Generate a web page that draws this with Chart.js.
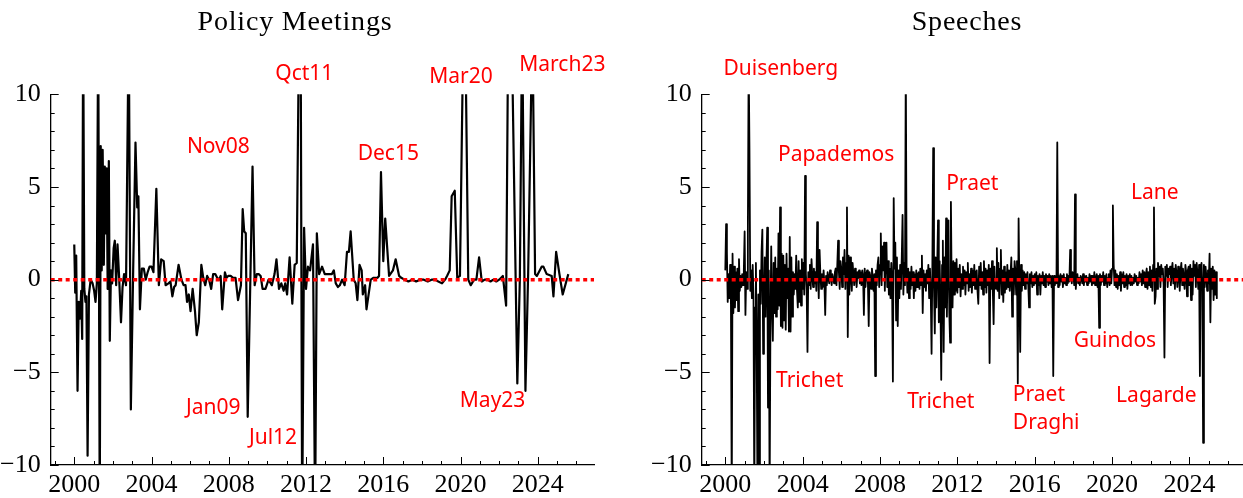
<!DOCTYPE html>
<html>
<head>
<meta charset="utf-8">
<script src="https://cdn.jsdelivr.net/npm/chart.js@4.4.1/dist/chart.umd.min.js"></script>
<style>
  html, body { margin: 0; padding: 0; background: #fff; width: 1243px; height: 498px; overflow: hidden; }
  #wrap { position: relative; width: 1243px; height: 498px; overflow: hidden; }
  canvas { position: absolute; top: 0; }
  #meetings { left: 0; }
  #speeches { left: 620px; }
</style>
</head>
<body>
<div id="wrap">
  <canvas id="meetings" width="620" height="498"></canvas>
  <canvas id="speeches" width="630" height="498"></canvas>
</div>
<script>
// ---- Axis definitions ----
const yearTicks = [1999, 2000, 2001, 2002, 2003, 2004, 2005, 2006, 2007, 2008, 2009, 2010, 2011, 2012,
                   2013, 2014, 2015, 2016, 2017, 2018, 2019, 2020, 2021, 2022, 2023, 2024, 2025, 2026];
const yearLabels = { 2000: '2000', 2004: '2004', 2008: '2008', 2012: '2012', 2016: '2016', 2020: '2020', 2024: '2024' };
const valueLabels = { '-10': '\u221210', '-5': '\u22125', '0': '0', '5': '5', '10': '10' };

// ---- Policy meetings: surprise index per meeting (decimal year, value) ----
const meetingDates = [
  2000.00, 2000.05, 2000.10, 2000.17, 2000.23, 2000.30, 2000.36, 2000.41, 2000.46, 2000.52,
  2000.58, 2000.63, 2000.69, 2000.76, 2000.85, 2000.95, 2001.03, 2001.10, 2001.17, 2001.24,
  2001.32, 2001.37, 2001.42, 2001.47, 2001.53, 2001.58, 2001.63, 2001.68, 2001.73, 2001.79,
  2001.84, 2001.90, 2001.96, 2002.04, 2002.10, 2002.17, 2002.24, 2002.32, 2002.42, 2002.50,
  2002.58, 2002.68, 2002.82, 2002.93, 2003.05, 2003.17, 2003.26, 2003.32, 2003.40, 2003.50,
  2003.60, 2003.70, 2003.80, 2003.90, 2004.00, 2004.10, 2004.25, 2004.38, 2004.50, 2004.63,
  2004.73, 2004.88, 2004.98, 2005.08, 2005.17, 2005.25, 2005.40, 2005.55, 2005.66, 2005.76,
  2005.84, 2005.93, 2006.02, 2006.13, 2006.25, 2006.34, 2006.45, 2006.58, 2006.68, 2006.78,
  2006.88, 2006.98, 2007.09, 2007.19, 2007.30, 2007.40, 2007.50, 2007.58, 2007.66, 2007.80,
  2007.88, 2007.97, 2008.10, 2008.22, 2008.35, 2008.48, 2008.63, 2008.72, 2008.80, 2008.88,
  2008.98, 2009.23, 2009.34, 2009.45, 2009.55, 2009.65, 2009.75, 2009.90, 2010.06, 2010.23,
  2010.37, 2010.47, 2010.60, 2010.72, 2010.84, 2010.92, 2011.02, 2011.15, 2011.29, 2011.41,
  2011.52, 2011.64, 2011.72, 2011.80, 2011.90, 2012.00, 2012.10, 2012.21, 2012.36, 2012.47,
  2012.56, 2012.68, 2012.83, 2012.97, 2013.13, 2013.34, 2013.44, 2013.54, 2013.65, 2013.75,
  2013.87, 2014.00, 2014.12, 2014.22, 2014.31, 2014.47, 2014.57, 2014.66, 2014.77, 2014.88,
  2014.94, 2015.06, 2015.13, 2015.35, 2015.50, 2015.70, 2015.78, 2015.88, 2016.00, 2016.10,
  2016.30, 2016.50, 2016.64, 2016.82, 2016.93, 2017.10, 2017.30, 2017.50, 2017.70, 2017.90,
  2018.10, 2018.30, 2018.50, 2018.67, 2018.85, 2019.04, 2019.20, 2019.30, 2019.44, 2019.54,
  2019.70, 2019.83, 2019.97, 2020.15, 2020.24, 2020.40, 2020.53, 2020.70, 2020.82, 2020.96,
  2021.10, 2021.25, 2021.40, 2021.55, 2021.70, 2021.85, 2022.00, 2022.19, 2022.36, 2022.47,
  2022.64, 2022.94, 2023.07, 2023.19, 2023.36, 2023.50, 2023.72, 2023.86, 2023.95, 2024.20,
  2024.29, 2024.46, 2024.72, 2024.81, 2024.95, 2025.12, 2025.29, 2025.58
];
const meetingValues = [
  1.9, -0.7, 1.3, -6.0, -1.2, -2.1, -0.6, -3.2, 14, -0.5,
  -1.2, -0.9, -9.5, -0.8, 0.0, -0.2, -0.6, -1.2, -0.2, 14,
  -13, 7.2, 0.5, 7.0, 0.8, 6.1, 2.5, 6.0, -0.5, 6.4,
  -3.3, 0.5, -0.2, 1.7, 2.1, -0.3, 1.9, 0.2, -2.3, -0.4,
  0.3, -0.3, 14, -7.0, 0.5, 7.4, 3.9, 4.5, -1.6, 0.6,
  0.6, 0.0, 0.4, 0.7, 0.7, 0.4, 4.9, -0.3, 1.1, 1.0,
  -0.3, -0.2, -0.1, -0.9, -0.4, -0.3, 0.8, 0.0, -0.3, -0.3,
  -1.2, -0.8, -1.7, -0.5, -1.7, -3.0, -2.3, 0.8, 0.1, -0.3,
  0.2, 0.0, -0.5, 0.3, 0.3, 0.1, 0.0, 0.2, -1.6, 0.4,
  0.1, 0.2, 0.2, 0.1, 0.1, -1.1, -0.3, 3.8, 2.6, 2.5,
  -7.4, 6.1, -0.3, 0.3, 0.3, 0.2, -0.5, -0.5, 0.0, -0.3,
  0.3, 1.1, -0.5, -0.2, -0.6, -0.2, -0.8, 1.2, -1.3, 0.8,
  0.9, 14, 14, -13, 2.8, -0.5, 0.7, 0.5, 1.9, -13,
  2.5, 0.3, 0.7, 0.3, 0.3, 0.3, 0.5, -0.2, -0.4, -0.3,
  0.0, -0.3, 1.5, 1.5, 2.6, 0.0, -0.2, -1.1, 0.8, 0.5,
  -0.8, -0.3, -1.6, 0.0, 0.1, 0.1, 0.2, 5.8, 1.0, 3.3,
  0.2, 0.5, 1.1, 0.2, 0.1, 0.0, -0.1, 0.0, -0.1, 0.0,
  0.0, -0.1, 0.0, 0.0, -0.1, -0.2, 0.0, 0.2, 0.5, 4.5,
  4.8, 0.1, 0.2, 14, 14, 0.0, -0.3, 0.0, 0.0, 1.2,
  -0.1, 0.0, 0.0, -0.1, 0.0, -0.1, 0.0, 0.2, -1.4, 14,
  14, -5.6, 0.0, 14, -6.0, 0.3, 14, 0.3, 0.2, 0.7,
  0.7, 0.3, 0.2, -0.9, 1.5, 0.3, -0.8, 0.3
];

// ---- Speeches: surprise index, 24 observations per year from January 2000 ----
const speechStartYear = 2000;
const speechStepsPerYear = 24;
const speechValues = [
  /* 2000 */ 0.5, 3.0, 1.5, -1.2, 0.3, -1.0, 0.8, -1.3, -12, 1.4, -1.8, 0.7, -1.5, 0.4, -1.1, 0.6, -1.7, 1.1, -0.6, 0.2, -0.4, 0.3, -0.3, 0.5,
  /* 2001 */ 2.6, -1.9, 0.4, -0.5, 2.5, 12, 7.0, -0.6, 0.5, -1.0, 0.8, -0.9, -12, -1.5, 0.9, -4.0, -12, -0.8, -12, 0.5, -1.3, 1.5, 2.7, -4.0,
  /* 2002 */ -1.3, 1.2, -2.0, 0.8, 2.8, -6.9, 0.5, -12, -2.5, 1.8, -1.5, -3.3, 0.9, -1.8, 1.2, -2.0, 0.6, -1.6, 2.5, -1.4, 3.9, -2.5, 1.4, -2.6,
  /* 2003 */ 1.3, -2.2, 0.8, -2.7, 1.4, -1.0, 0.6, -2.8, 2.3, -2.8, 1.2, -2.0, 0.4, -0.8, 0.3, -0.5, 1.3, -0.6, -1.5, 1.0, -1.2, 0.5, -1.4, 1.1,
  /* 2004 */ -0.5, 0.9, -0.8, 5.6, 0.3, -0.6, -3.9, 0.4, -0.3, 0.8, -0.5, 1.1, 0.2, -0.4, 0.6, -0.2, 0.4, -0.6, 3.1, 0.5, -1.0, 1.6, 0.3, -0.5,
  /* 2005 */ 0.3, -0.4, 0.5, -0.2, -1.9, 0.2, -0.3, 0.4, 0.1, -0.2, 0.5, 0.2, -0.3, 0.3, 0.1, -0.2, 0.4, 0.6, -0.3, 0.8, 2.1, 0.4, -0.5, 1.0,
  /* 2006 */ 0.6, -0.4, 1.2, 0.3, 1.6, -0.5, 0.9, 3.9, -3.1, 1.3, -0.8, 1.2, 0.2, -0.6, 0.9, 0.3, -0.3, 0.6, 0.2, -0.4, 0.4, 0.1, 0.5, -0.2,
  /* 2007 */ 0.4, -0.3, 0.5, 0.2, -1.9, 0.6, -0.4, 0.3, 0.5, -0.2, -2.5, 0.4, 0.2, -0.5, 0.6, 0.1, -0.6, 0.3, -5.2, 0.5, -0.3, 0.8, 1.2, -0.4,
  /* 2008 */ 0.8, 2.5, -0.3, 1.8, 0.5, 2.0, -0.6, 1.5, 2.0, -0.4, 1.0, -0.8, 0.6, -1.0, 0.9, -0.3, -5.5, 4.4, 0.6, 2.0, -2.2, 1.2, -2.5, 0.5,
  /* 2009 */ -1.0, 0.8, -0.5, 1.2, 3.5, -0.8, 0.9, -0.3, 12, 0.5, -0.7, 0.6, -1.0, 0.4, -0.5, 0.7, -0.3, 0.4, -1.0, 0.3, -0.6, 0.5, -0.4, 0.3,
  /* 2010 */ 0.4, -0.5, 0.6, -0.3, 1.3, -1.8, 0.5, -0.4, 0.3, -0.6, 0.5, -0.2, 0.8, -1.0, 0.6, -0.8, -4.0, 0.9, 7.1, -0.5, -2.9, 1.2, -1.5, 0.8,
  /* 2011 */ 3.2, -2.3, 1.0, -1.2, -5.4, 0.8, 2.1, -3.9, 1.2, -1.5, 3.3, -2.0, 1.0, 3.2, -1.8, -3.4, 4.2, -0.5, -1.5, 1.0, -0.8, 0.9, -0.6, 1.1,
  /* 2012 */ -0.7, 0.6, -0.4, 0.8, -0.9, 0.3, -0.5, 0.7, -0.3, 0.5, -0.8, 0.4, -0.2, 0.9, -0.6, 0.3, -0.4, 0.6, -0.7, 0.5, -0.3, 0.8, -0.5, 0.4,
  /* 2013 */ 0.5, -0.6, -1.3, 0.7, -0.3, 0.9, -0.5, 0.4, -0.8, 1.0, -0.4, 0.6, -0.7, 0.5, -0.3, 0.8, -4.5, 0.6, -0.5, 1.0, -0.6, -2.4, 0.7, -0.4,
  /* 2014 */ -0.5, 1.7, -0.6, 0.9, -1.0, 0.6, 1.6, -0.8, 0.5, -1.2, 0.7, -0.7, 0.4, -0.5, 0.8, -0.4, 0.5, -0.6, 0.3, 1.2, -2.0, 0.6, -0.8, 1.0,
  /* 2015 */ 0.5, -0.8, 1.0, -5.6, 3.3, -0.5, -3.9, 0.8, -0.6, 0.5, -0.3, 0.4, -0.5, 0.3, -0.2, 0.4, -0.3, -1.5, 0.3, -0.2, 0.4, -0.4, 0.2, -0.3,
  /* 2016 */ 0.3, -0.2, 0.4, -0.8, 0.2, -0.3, 0.3, -0.8, 0.2, -0.2, 0.4, -0.3, 0.2, -0.4, 0.3, -0.1, 0.2, -0.3, 0.3, -0.2, 0.2, -0.4, 0.2, -5.2,
  /* 2017 */ 0.2, -0.3, 0.1, -0.2, 7.4, -0.4, 0.2, -0.3, 0.3, -0.1, 0.2, -0.4, 0.3, -0.2, 0.1, -0.3, 0.3, -0.2, 0.2, -0.1, 1.6, 0.3, -0.2, 0.4,
  /* 2018 */ 0.3, -0.3, 4.6, -0.5, 0.2, 0.3, -0.2, 0.1, -0.3, 0.2, 0.1, -0.2, 0.3, -0.3, 0.2, -0.1, 0.2, -0.3, 0.1, -0.2, 0.3, -0.1, 0.2, -0.3,
  /* 2019 */ 0.2, -0.2, 0.4, -0.3, 0.1, 0.3, -0.4, 0.2, -2.6, 0.3, -0.3, 0.2, -0.1, 0.4, -0.3, 0.2, -0.2, 0.3, -0.4, 0.1, 0.3, -0.3, 0.5, -0.2,
  /* 2020 */ 0.6, 4.0, 0.8, -0.3, 0.5, -0.4, 0.3, -0.5, 0.2, -0.3, 0.4, -0.6, 0.3, -0.2, 0.4, -0.4, 0.2, -0.3, 0.3, -0.5, 0.2, -0.2, 0.3, -0.3,
  /* 2021 */ 0.2, -0.3, 0.1, -0.2, 0.3, -0.1, 0.2, -0.3, 0.1, -0.2, 0.4, -0.1, 0.3, -0.3, 0.5, -0.2, 0.4, -0.4, 0.3, 0.6, -0.5, 0.4, -0.3, 0.7,
  /* 2022 */ -0.4, 0.5, -0.6, 0.8, 3.9, -1.3, -0.9, 0.6, -0.5, 0.9, 0.2, 0.7, -0.4, 0.8, 0.3, 0.6, -0.3, -4.2, 0.7, 0.2, 0.8, -0.4, 0.6, 0.3,
  /* 2023 */ 0.7, -0.3, 0.5, 0.9, -0.2, 0.6, -0.5, 0.8, 0.3, -0.4, 0.7, 0.2, -0.6, 0.5, 0.9, -0.3, 0.6, 0.1, -0.5, 0.8, 0.4, -0.9, 0.5, 0.7,
  /* 2024 */ -0.3, 0.8, -1.1, 0.6, -0.8, 1.0, 0.2, 0.8, -0.4, 0.9, 0.3, -0.5, 0.8, -5.2, 0.6, 0.9, -0.2, -8.8, 0.8, -0.4, 0.7, 0.2, -0.6, 0.5,
  /* 2025 */ -0.2, 1.4, -2.3, 0.6, -0.5, 0.7, -1.1, 0.5, -0.8, 0.4, -1.0
];

// ---- Red annotations: [text, year, value, align] ----
const meetingNotes = [
  ['Qct11', 2011.91, 11.07, 'center'],
  ['Nov08', 2007.46, 7.16, 'center'],
  ['Jan09', 2007.20, -6.90, 'center'],
  ['Jul12', 2010.29, -8.53, 'center'],
  ['Dec15', 2016.26, 6.77, 'center'],
  ['Mar20', 2020.02, 10.92, 'center'],
  ['March23', 2025.27, 11.56, 'center'],
  ['May23', 2021.66, -6.54, 'center']
];
const speechNotes = [
  ['Duisenberg', 2002.87, 11.34, 'center'],
  ['Papademos', 2005.73, 6.75, 'center'],
  ['Praet', 2012.77, 5.14, 'center'],
  ['Lane', 2022.21, 4.65, 'center'],
  ['Trichet', 2004.36, -5.47, 'center'],
  ['Trichet', 2011.14, -6.59, 'center'],
  ['Praet', 2014.87, -6.23, 'left'],
  ['Draghi', 2014.87, -7.71, 'left'],
  ['Guindos', 2020.15, -3.31, 'center'],
  ['Lagarde', 2022.29, -6.27, 'center']
];

const X_MIN = 1998.78, X_MAX = 2026.91;
const RED = '#ff0000';
const SERIF = '"Liberation Serif", "Times New Roman", serif';
const SANS = '"Noto Sans", "Open Sans", sans-serif';

function toPoints(xs, ys) {
  return ys.map((v, i) => ({ x: xs[i], y: v }));
}
const speechDates = speechValues.map((_, i) => speechStartYear + i / speechStepsPerYear);

// Inward tick marks, panel title and red annotations
function decorations(title, titleX, notes) {
  return {
    id: 'decorations',
    afterDraw(chart) {
      const { ctx, chartArea, scales: { x, y } } = chart;
      ctx.save();
      ctx.strokeStyle = '#000';
      ctx.lineWidth = 1;
      x.ticks.forEach(t => {
        const px = Math.round(x.getPixelForValue(t.value)) + 0.5;
        const len = yearLabels[t.value] ? 8 : 4;
        ctx.beginPath();
        ctx.moveTo(px, chartArea.bottom);
        ctx.lineTo(px, chartArea.bottom - len);
        ctx.stroke();
      });
      y.ticks.forEach(t => {
        const py = Math.round(y.getPixelForValue(t.value)) + 0.5;
        const len = valueLabels[String(t.value)] ? 8 : 4;
        ctx.beginPath();
        ctx.moveTo(chartArea.left, py);
        ctx.lineTo(chartArea.left + len, py);
        ctx.stroke();
      });

      // title
      ctx.fillStyle = '#000';
      ctx.font = '28px ' + SERIF;
      ctx.textAlign = 'center';
      ctx.textBaseline = 'alphabetic';
      if ('letterSpacing' in ctx) ctx.letterSpacing = '0.8px';
      ctx.fillText(title, titleX, 30);
      if ('letterSpacing' in ctx) ctx.letterSpacing = '0px';

      // annotations
      ctx.fillStyle = RED;
      ctx.font = '21px ' + SANS;
      ctx.textBaseline = 'middle';
      notes.forEach(([text, yr, val, align]) => {
        ctx.textAlign = align;
        ctx.fillText(text, x.getPixelForValue(yr), y.getPixelForValue(val));
      });
      ctx.restore();
    }
  };
}

function panel(canvasId, opts) {
  return new Chart(document.getElementById(canvasId), {
    type: 'line',
    data: {
      datasets: [
        {
          data: [{ x: X_MIN, y: 0 }, { x: X_MAX, y: 0 }],
          borderColor: RED,
          borderWidth: 3.5,
          borderDash: [4, 3.5],
          pointRadius: 0,
          order: 0
        },
        {
          data: opts.points,
          borderColor: '#000',
          borderWidth: opts.lineWidth,
          borderJoinStyle: 'round',
          pointRadius: 0,
          tension: 0,
          order: 1
        }
      ]
    },
    options: {
      responsive: false,
      animation: false,
      devicePixelRatio: 1,
      layout: { padding: { left: 0, right: opts.padRight, top: 94.3, bottom: 0 } },
      plugins: { legend: { display: false }, tooltip: { enabled: false }, title: { display: false } },
      scales: {
        x: {
          type: 'linear',
          min: X_MIN,
          max: X_MAX,
          grid: { display: false, drawTicks: false },
          border: { display: true, color: '#000', width: 1.3 },
          afterBuildTicks: s => { s.ticks = yearTicks.map(v => ({ value: v })); },
          afterFit: s => { s.height = 33; },
          ticks: {
            autoSkip: false,
            maxRotation: 0,
            padding: 5,
            color: '#000',
            font: { family: SERIF, size: 26 },
            callback: v => yearLabels[v] || ''
          }
        },
        y: {
          type: 'linear',
          min: -10,
          max: 10,
          grid: { display: false, drawTicks: false },
          border: { display: true, color: '#000', width: 1.3 },
          afterFit: s => { s.width = opts.axisLeft; },
          ticks: {
            stepSize: 1,
            autoSkip: false,
            padding: 10,
            color: '#000',
            font: { family: SERIF, size: 26 },
            callback: v => valueLabels[String(v)] || ''
          }
        }
      }
    },
    plugins: [decorations(opts.title, opts.titleX, opts.notes)]
  });
}

panel('meetings', {
  points: toPoints(meetingDates, meetingValues),
  lineWidth: 2.2,
  axisLeft: 50.7,
  padRight: 26,
  title: 'Policy Meetings',
  titleX: 295,
  notes: meetingNotes
});

panel('speeches', {
  points: toPoints(speechDates, speechValues),
  lineWidth: 1.8,
  axisLeft: 81.7,
  padRight: 4.3,
  title: 'Speeches',
  titleX: 347,
  notes: speechNotes
});
</script>
</body>
</html>
